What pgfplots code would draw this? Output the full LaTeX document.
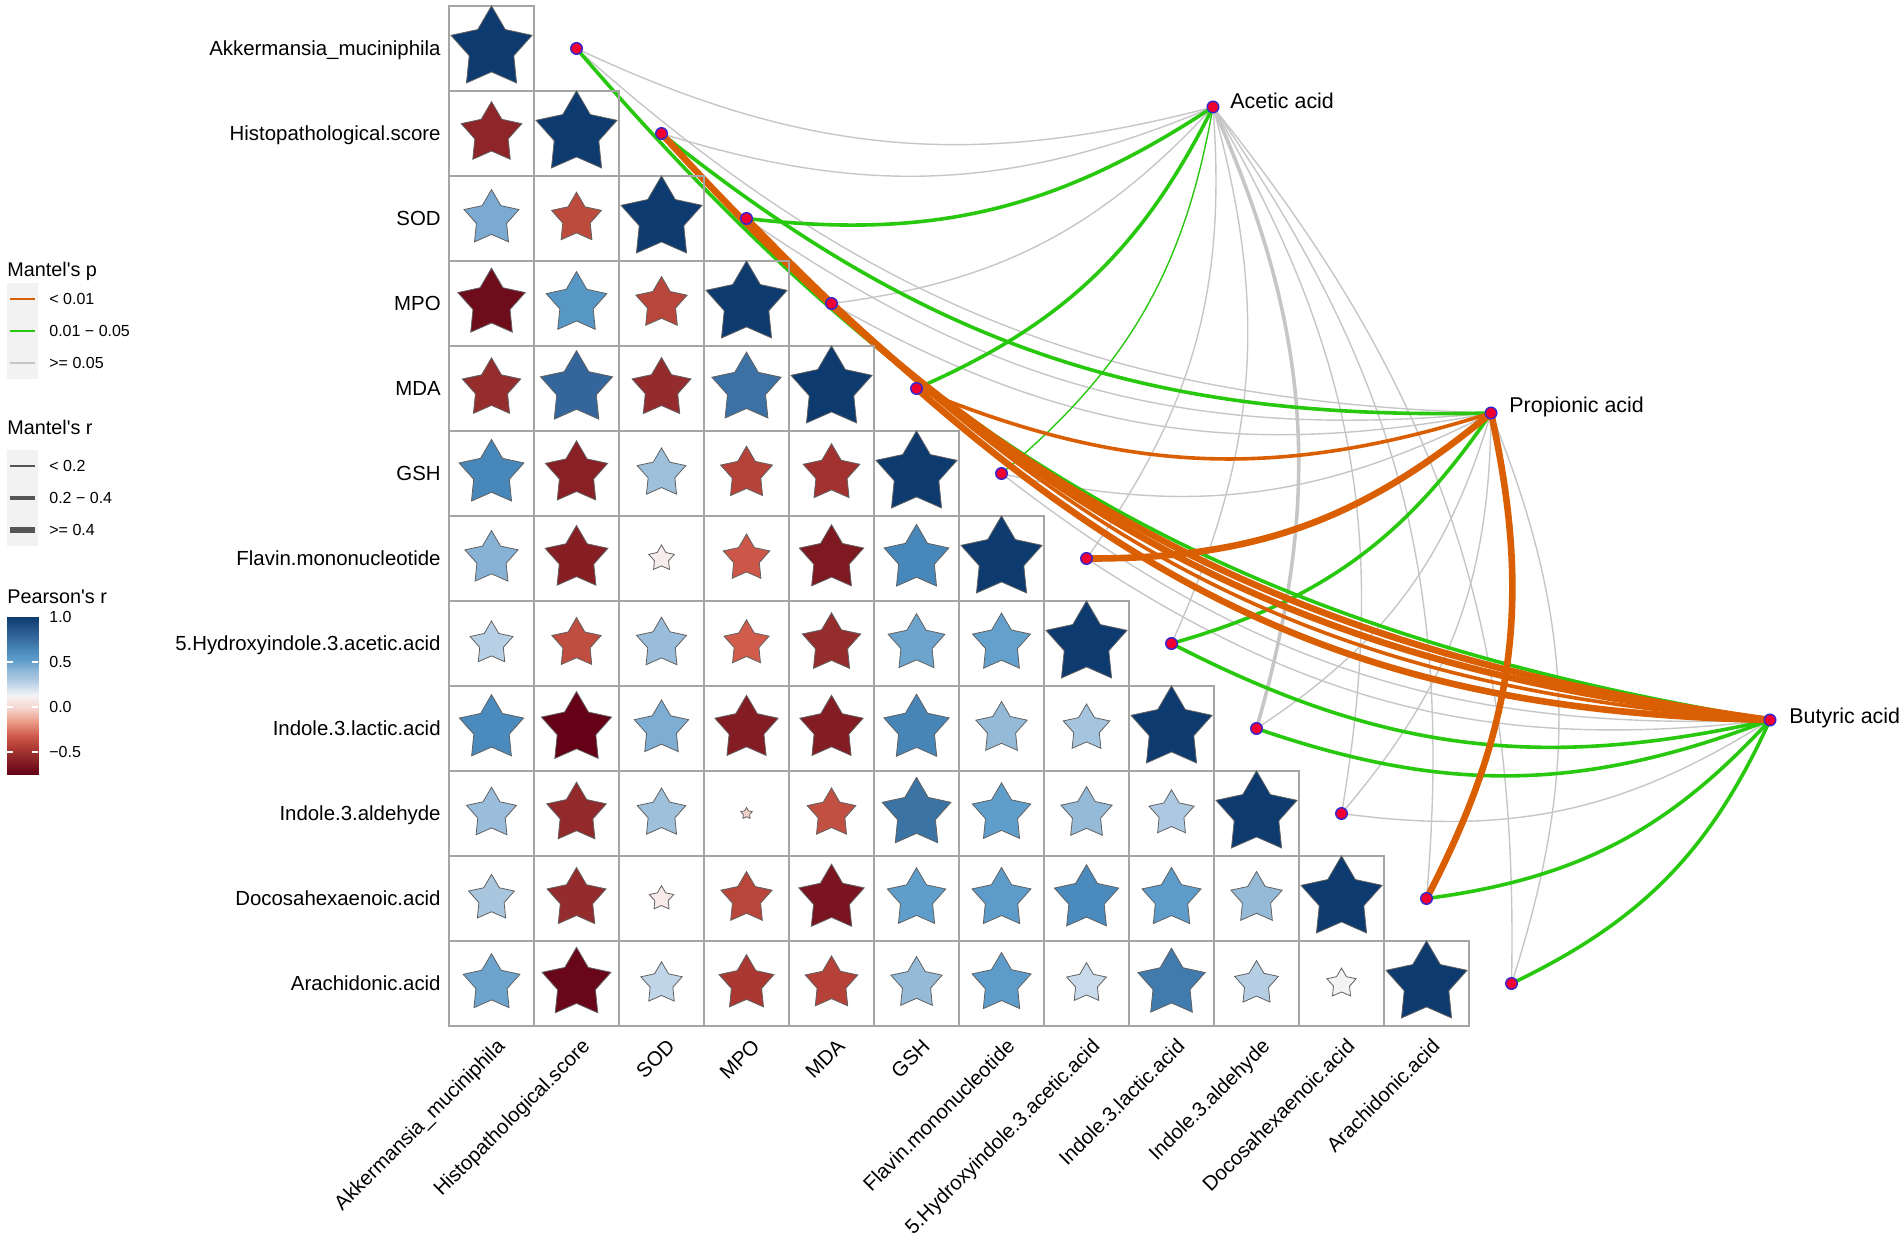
\documentclass[border=0pt]{standalone}
\usepackage{fontspec}
\setmainfont{Liberation Sans}
\usepackage{pgfplots}
\pgfplotsset{compat=1.18}
\usepackage{pgfplotstable}

\definecolor{pOrange}{RGB}{217,95,2}
\definecolor{pGreen}{RGB}{40,200,15}
\definecolor{pGrey}{RGB}{198,198,198}
\definecolor{gridgrey}{RGB}{165,165,165}
\definecolor{nodeRed}{RGB}{240,0,50}
\definecolor{nodeBlue}{RGB}{50,40,210}
\definecolor{keybg}{RGB}{242,242,242}
\definecolor{keyline}{RGB}{85,85,85}

% filled five-pointed star
\pgfdeclareplotmark{fstar}{%
  \pgfpathmoveto{\pgfpointpolar{90}{\pgfplotmarksize}}%
  \pgfpathlineto{\pgfpointpolar{126}{0.55\pgfplotmarksize}}%
  \pgfpathlineto{\pgfpointpolar{162}{\pgfplotmarksize}}%
  \pgfpathlineto{\pgfpointpolar{198}{0.55\pgfplotmarksize}}%
  \pgfpathlineto{\pgfpointpolar{234}{\pgfplotmarksize}}%
  \pgfpathlineto{\pgfpointpolar{270}{0.55\pgfplotmarksize}}%
  \pgfpathlineto{\pgfpointpolar{306}{\pgfplotmarksize}}%
  \pgfpathlineto{\pgfpointpolar{342}{0.55\pgfplotmarksize}}%
  \pgfpathlineto{\pgfpointpolar{18}{\pgfplotmarksize}}%
  \pgfpathlineto{\pgfpointpolar{54}{0.55\pgfplotmarksize}}%
  \pgfpathclose
  \pgfusepathqfillstroke
}

\tikzset{
  pO/.style={draw=pOrange}, pG/.style={draw=pGreen}, pN/.style={draw=pGrey},
  rS/.style={line width=0.7pt}, rM/.style={line width=1.8pt}, rL/.style={line width=3.3pt},
}

% Pearson's r, lower triangle: x = column, y = row
\pgfplotstableread{
x y r
0 0 1
0 1 -0.56
1 1 1
0 2 0.46
1 2 -0.38
2 2 1
0 3 -0.69
1 3 0.56
2 3 -0.40
3 3 1
0 4 -0.52
1 4 0.79
2 4 -0.53
3 4 0.73
4 4 1
0 5 0.64
1 5 -0.59
2 5 0.36
3 5 -0.41
4 5 -0.49
5 5 1
0 6 0.43
1 6 -0.60
2 6 0.10
3 6 -0.33
4 6 -0.63
5 6 0.64
6 6 1
0 7 0.28
1 7 -0.37
2 7 0.38
3 7 -0.31
4 7 -0.52
5 7 0.49
6 7 0.51
7 7 1
0 8 0.63
1 8 -0.75
2 8 0.45
3 8 -0.61
4 8 -0.61
5 8 0.65
6 8 0.40
7 8 0.33
8 8 1
0 9 0.38
1 9 -0.54
2 9 0.36
3 9 -0.02
4 9 -0.36
5 9 0.72
6 9 0.52
7 9 0.40
8 9 0.31
9 9 1
0 10 0.32
1 10 -0.53
2 10 0.09
3 10 -0.40
4 10 -0.65
5 10 0.52
6 10 0.53
7 10 0.63
8 10 0.53
9 10 0.40
10 10 1
0 11 0.49
1 11 -0.72
2 11 0.26
3 11 -0.46
4 11 -0.42
5 11 0.40
6 11 0.53
7 11 0.24
8 11 0.69
9 11 0.29
10 11 0.13
11 11 1
}\cells

% link end points: one per variable, then the three acids
\pgfplotstableread{
x y
1 0
2 1
3 2
4 3
5 4
6 5
7 6
8 7
9 8
10 9
11 10
12 11
8.488 0.688
11.759 4.288
15.041 7.900
}\linknodes

\def\Ax{8.488}\def\Ay{0.688}
\def\Px{11.759}\def\Py{4.288}
\def\Bx{15.041}\def\By{7.900}
\newcommand{\mlink}[5]{\draw[#5] (axis cs:#1,#2) to[bend right=20] (axis cs:#3,#4);}

\newcommand{\lab}{\fontsize{10.2pt}{12pt}\selectfont}
\newcommand{\envlab}{\fontsize{10.7pt}{12pt}\selectfont}
\newcommand{\ttl}{\fontsize{9.9pt}{12pt}\selectfont}
\newcommand{\keylab}{\fontsize{8pt}{10pt}\selectfont}

\begin{document}
\begin{tikzpicture}
\begin{axis}[
  scale only axis, width=951pt, height=617pt,
  xmin=-5.7824, xmax=16.5941, ymin=-0.5706, ymax=13.9471,
  y dir=reverse, hide axis, clip=false,
  colormap={pearson}{rgb255(0pt)=(101,0,22); rgb255(6pt)=(110,12,28);
    rgb255(15pt)=(134,30,36); rgb255(23pt)=(150,45,45); rgb255(30pt)=(175,57,52);
    rgb255(37pt)=(188,75,62); rgb255(44pt)=(210,92,76); rgb255(60pt)=(236,160,140);
    rgb255(75pt)=(245,215,210); rgb255(85pt)=(247,236,236); rgb255(88pt)=(243,243,244);
    rgb255(99pt)=(200,218,235); rgb255(108pt)=(165,196,222); rgb255(115pt)=(148,186,216);
    rgb255(121pt)=(122,170,210); rgb255(127pt)=(95,158,203); rgb255(138pt)=(74,138,188);
    rgb255(147pt)=(60,115,165); rgb255(154pt)=(52,101,155); rgb255(175pt)=(14,59,111)},
  point meta min=-0.75, point meta max=1,
]
% cell frames
\addplot[only marks, mark=square, mark size=21.25pt,
  mark options={draw=gridgrey, line width=0.6pt}] table[x=x,y=y] {\cells};
% stars
\addplot[scatter, only marks, mark=fstar,
  point meta=\thisrow{r},
  scatter/use mapped color={draw=black!62, fill=mapped color},
  visualization depends on={21.3*sqrt(abs(\thisrow{r})) \as \rad},
  scatter/@pre marker code/.append style={/tikz/mark size=\rad pt},
  mark options={line width=0.4pt}] table[x=x,y=y] {\cells};

% Mantel links: p >= 0.05
\mlink{1}{0}{\Ax}{\Ay}{pN,rS}
\mlink{2}{1}{\Ax}{\Ay}{pN,rS}
\mlink{4}{3}{\Ax}{\Ay}{pN,rS}
\mlink{7}{6}{\Ax}{\Ay}{pN,rS}
\mlink{8}{7}{\Ax}{\Ay}{pN,rS}
\mlink{9}{8}{\Ax}{\Ay}{pN,rM}
\mlink{10}{9}{\Ax}{\Ay}{pN,rS}
\mlink{11}{10}{\Ax}{\Ay}{pN,rS}
\mlink{12}{11}{\Ax}{\Ay}{pN,rS}
\mlink{1}{0}{\Px}{\Py}{pN,rS}
\mlink{3}{2}{\Px}{\Py}{pN,rS}
\mlink{4}{3}{\Px}{\Py}{pN,rS}
\mlink{6}{5}{\Px}{\Py}{pN,rS}
\mlink{9}{8}{\Px}{\Py}{pN,rS}
\mlink{10}{9}{\Px}{\Py}{pN,rS}
\mlink{12}{11}{\Px}{\Py}{pN,rS}
\mlink{6}{5}{\Bx}{\By}{pN,rS}
\mlink{7}{6}{\Bx}{\By}{pN,rS}
\mlink{10}{9}{\Bx}{\By}{pN,rS}
% 0.01 - 0.05
\mlink{3}{2}{\Ax}{\Ay}{pG,rM}
\mlink{5}{4}{\Ax}{\Ay}{pG,rM}
\mlink{6}{5}{\Ax}{\Ay}{pG,rS}
\mlink{2}{1}{\Px}{\Py}{pG,rM}
\mlink{8}{7}{\Px}{\Py}{pG,rM}
\mlink{1}{0}{\Bx}{\By}{pG,rM}
\mlink{8}{7}{\Bx}{\By}{pG,rM}
\mlink{9}{8}{\Bx}{\By}{pG,rM}
\mlink{11}{10}{\Bx}{\By}{pG,rM}
\mlink{12}{11}{\Bx}{\By}{pG,rM}
% < 0.01
\mlink{5}{4}{\Px}{\Py}{pO,rM}
\mlink{7}{6}{\Px}{\Py}{pO,rL}
\mlink{11}{10}{\Px}{\Py}{pO,rL}
\mlink{2}{1}{\Bx}{\By}{pO,rL}
\mlink{3}{2}{\Bx}{\By}{pO,rL}
\mlink{4}{3}{\Bx}{\By}{pO,rM}
\mlink{5}{4}{\Bx}{\By}{pO,rL}

% link end points
\addplot[only marks, mark=*, mark size=2.9pt,
  mark options={fill=nodeRed, draw=nodeBlue, line width=0.7pt}] table[x=x,y=y] {\linknodes};

% acid labels
\node[anchor=base west, inner sep=0, font=\envlab] at (axis cs:8.688,0.708) {Acetic acid};
\node[anchor=base west, inner sep=0, font=\envlab] at (axis cs:11.971,4.281) {Propionic acid};
\node[anchor=base west, inner sep=0, font=\envlab] at (axis cs:15.265,7.941) {Butyric acid};

% row labels
\begin{scope}[every node/.style={anchor=base east, inner sep=0, font=\lab}]
\node at (axis cs:-0.594,0.086) {Akkermansia\_muciniphila};
\node at (axis cs:-0.594,1.086) {Histopathological.score};
\node at (axis cs:-0.594,2.086) {SOD};
\node at (axis cs:-0.594,3.086) {MPO};
\node at (axis cs:-0.594,4.086) {MDA};
\node at (axis cs:-0.594,5.086) {GSH};
\node at (axis cs:-0.594,6.086) {Flavin.mononucleotide};
\node at (axis cs:-0.594,7.086) {5.Hydroxyindole.3.acetic.acid};
\node at (axis cs:-0.594,8.086) {Indole.3.lactic.acid};
\node at (axis cs:-0.594,9.086) {Indole.3.aldehyde};
\node at (axis cs:-0.594,10.086) {Docosahexaenoic.acid};
\node at (axis cs:-0.594,11.086) {Arachidonic.acid};
\end{scope}
% column labels
\begin{scope}[every node/.style={rotate=45, anchor=north east, inner sep=0,
  text height=0.72em, text depth=0.21em, font=\lab}]
\node at (axis cs:0.05,11.63) {Akkermansia\_muciniphila};
\node at (axis cs:1.05,11.63) {Histopathological.score};
\node at (axis cs:2.05,11.63) {SOD};
\node at (axis cs:3.05,11.63) {MPO};
\node at (axis cs:4.05,11.63) {MDA};
\node at (axis cs:5.05,11.63) {GSH};
\node at (axis cs:6.05,11.63) {Flavin.mononucleotide};
\node at (axis cs:7.05,11.63) {5.Hydroxyindole.3.acetic.acid};
\node at (axis cs:8.05,11.63) {Indole.3.lactic.acid};
\node at (axis cs:9.05,11.63) {Indole.3.aldehyde};
\node at (axis cs:10.05,11.63) {Docosahexaenoic.acid};
\node at (axis cs:11.05,11.63) {Arachidonic.acid};
\end{scope}

% legend: Mantel's p
\node[anchor=base west, inner sep=0, font=\ttl] at (axis cs:-5.700,2.688) {Mantel\textquotesingle s p};
\fill[keybg] (axis cs:-5.700,2.759) rectangle (axis cs:-5.335,3.888);
\draw[pOrange, line width=0.8pt] (axis cs:-5.665,2.947) -- (axis cs:-5.371,2.947);
\draw[pGreen, line width=0.8pt] (axis cs:-5.665,3.324) -- (axis cs:-5.371,3.324);
\draw[pGrey, line width=0.8pt] (axis cs:-5.665,3.700) -- (axis cs:-5.371,3.700);
\node[anchor=west, inner sep=0, font=\keylab] at (axis cs:-5.206,2.947) {< 0.01};
\node[anchor=west, inner sep=0, font=\keylab] at (axis cs:-5.206,3.324) {0.01 − 0.05};
\node[anchor=west, inner sep=0, font=\keylab] at (axis cs:-5.206,3.700) {>= 0.05};
% legend: Mantel's r
\node[anchor=base west, inner sep=0, font=\ttl] at (axis cs:-5.700,4.547) {Mantel\textquotesingle s r};
\fill[keybg] (axis cs:-5.700,4.724) rectangle (axis cs:-5.335,5.853);
\draw[keyline, line width=0.7pt] (axis cs:-5.665,4.912) -- (axis cs:-5.371,4.912);
\draw[keyline, line width=1.6pt] (axis cs:-5.665,5.288) -- (axis cs:-5.371,5.288);
\draw[keyline, line width=3.4pt] (axis cs:-5.665,5.665) -- (axis cs:-5.371,5.665);
\node[anchor=west, inner sep=0, font=\keylab] at (axis cs:-5.206,4.912) {< 0.2};
\node[anchor=west, inner sep=0, font=\keylab] at (axis cs:-5.206,5.288) {0.2 − 0.4};
\node[anchor=west, inner sep=0, font=\keylab] at (axis cs:-5.206,5.665) {>= 0.4};
% legend: Pearson's r
\node[anchor=base west, inner sep=0, font=\ttl] at (axis cs:-5.700,6.524) {Pearson\textquotesingle s r};
\addplot[surf, shader=interp, point meta=explicit, mesh/cols=2] coordinates {
(-5.700,6.688) [1] (-5.335,6.688) [1]
(-5.700,8.547) [-0.755] (-5.335,8.547) [-0.755]
};
\draw[white, line width=0.6pt] (axis cs:-5.700,7.218) -- (axis cs:-5.630,7.218)
  (axis cs:-5.405,7.218) -- (axis cs:-5.335,7.218)
  (axis cs:-5.700,7.747) -- (axis cs:-5.630,7.747)
  (axis cs:-5.405,7.747) -- (axis cs:-5.335,7.747)
  (axis cs:-5.700,8.276) -- (axis cs:-5.630,8.276)
  (axis cs:-5.405,8.276) -- (axis cs:-5.335,8.276);
\node[anchor=west, inner sep=0, font=\keylab] at (axis cs:-5.206,6.688) {1.0};
\node[anchor=west, inner sep=0, font=\keylab] at (axis cs:-5.206,7.218) {0.5};
\node[anchor=west, inner sep=0, font=\keylab] at (axis cs:-5.206,7.747) {0.0};
\node[anchor=west, inner sep=0, font=\keylab] at (axis cs:-5.206,8.276) {−0.5};
\end{axis}
\pgfresetboundingbox
\useasboundingbox (current axis.south west) rectangle (current axis.north east);
\end{tikzpicture}
\end{document}
